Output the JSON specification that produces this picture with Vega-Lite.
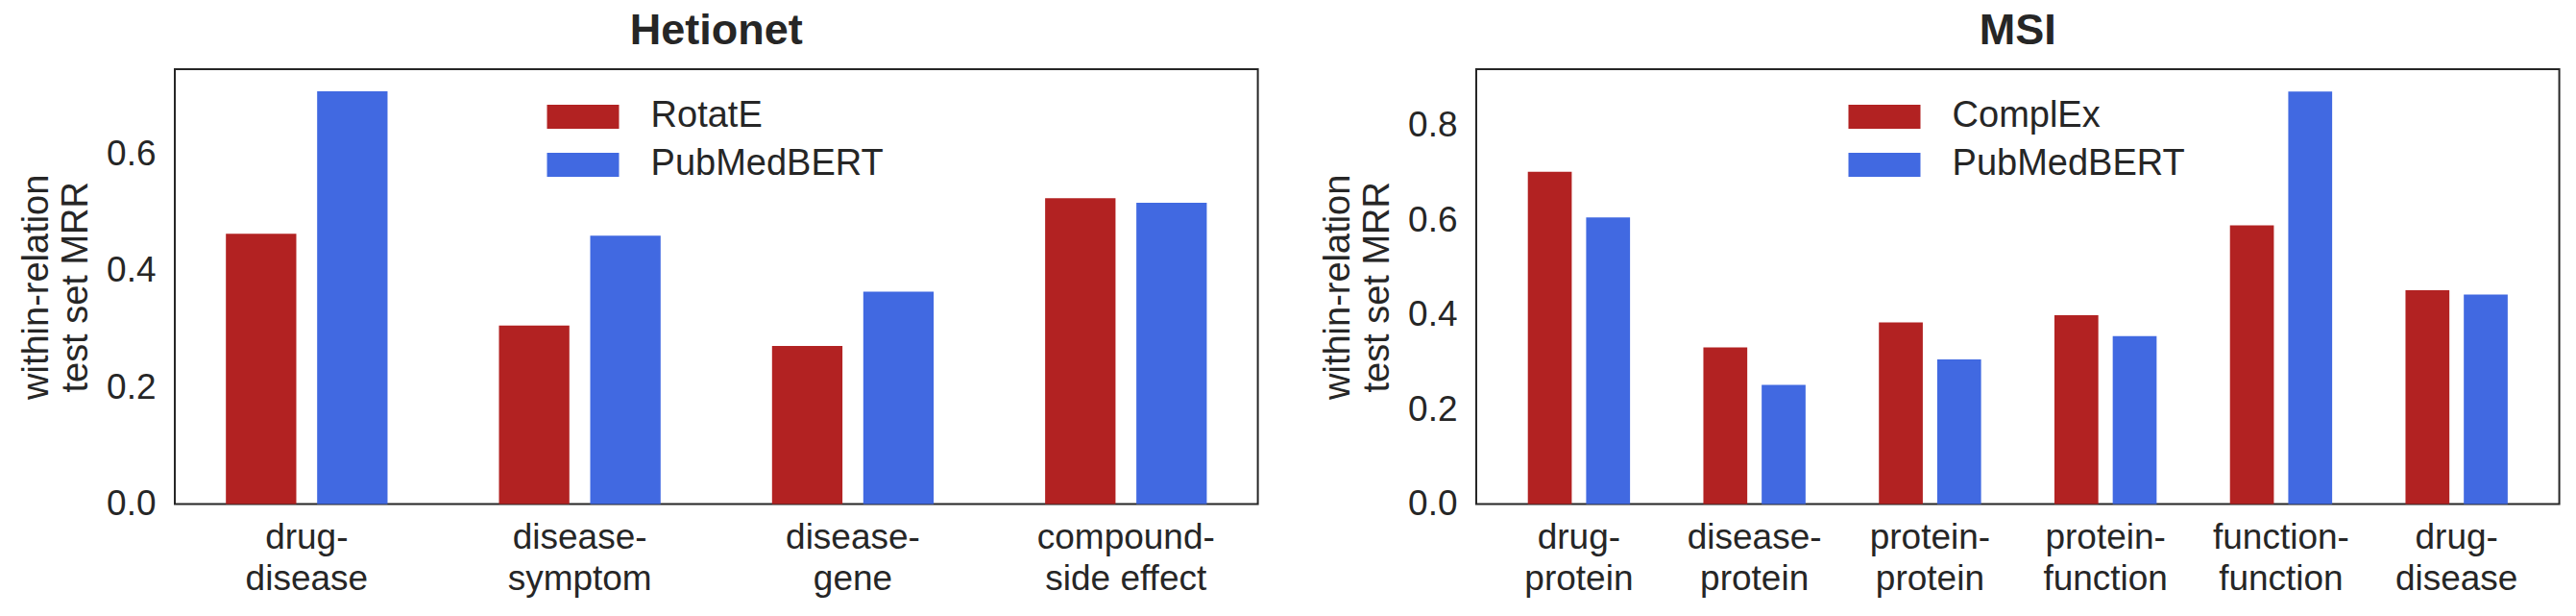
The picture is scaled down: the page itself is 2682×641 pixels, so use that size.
{
  "$schema": "https://vega.github.io/schema/vega-lite/v6.json",
  "background": "white",
  "padding": {"left": 18, "top": 9, "right": 0, "bottom": 0},
  "datasets": {
    "hetionet": [
      {"relation": "drug-disease", "model": "RotatE", "mrr": 0.463},
      {"relation": "drug-disease", "model": "PubMedBERT", "mrr": 0.707},
      {"relation": "disease-symptom", "model": "RotatE", "mrr": 0.306},
      {"relation": "disease-symptom", "model": "PubMedBERT", "mrr": 0.46},
      {"relation": "disease-gene", "model": "RotatE", "mrr": 0.271},
      {"relation": "disease-gene", "model": "PubMedBERT", "mrr": 0.364},
      {"relation": "compound-side effect", "model": "RotatE", "mrr": 0.524},
      {"relation": "compound-side effect", "model": "PubMedBERT", "mrr": 0.516}
    ],
    "msi": [
      {"relation": "drug-protein", "model": "ComplEx", "mrr": 0.702},
      {"relation": "drug-protein", "model": "PubMedBERT", "mrr": 0.606},
      {"relation": "disease-protein", "model": "ComplEx", "mrr": 0.331},
      {"relation": "disease-protein", "model": "PubMedBERT", "mrr": 0.252},
      {"relation": "protein-protein", "model": "ComplEx", "mrr": 0.384},
      {"relation": "protein-protein", "model": "PubMedBERT", "mrr": 0.306},
      {"relation": "protein-function", "model": "ComplEx", "mrr": 0.399},
      {"relation": "protein-function", "model": "PubMedBERT", "mrr": 0.355},
      {"relation": "function-function", "model": "ComplEx", "mrr": 0.589},
      {"relation": "function-function", "model": "PubMedBERT", "mrr": 0.872},
      {"relation": "drug-disease", "model": "ComplEx", "mrr": 0.452},
      {"relation": "drug-disease", "model": "PubMedBERT", "mrr": 0.443}
    ]
  },
  "hconcat": [
    {
      "title": "Hetionet",
      "width": 1127.6,
      "height": 452.6,
      "data": {"name": "hetionet"},
      "encoding": {
        "x": {
          "field": "relation",
          "type": "nominal",
          "sort": null,
          "scale": {"paddingInner": 0.409, "paddingOuter": 0.1875}
        },
        "y": {
          "field": "mrr",
          "type": "quantitative",
          "scale": {"domain": [0, 0.745], "nice": false},
          "axis": {"values": [0, 0.2, 0.4, 0.6], "title": ["within-relation", "test set MRR"]}
        },
        "color": {
          "field": "model",
          "type": "nominal",
          "scale": {"domain": ["RotatE", "PubMedBERT"], "range": ["#b22222", "#4169e1"]}
        }
      },
      "layer": [
        {
          "transform": [{"filter": "datum.model === 'RotatE'"}],
          "mark": {"type": "bar", "width": 73.3, "xOffset": -47.5}
        },
        {
          "transform": [{"filter": "datum.model === 'PubMedBERT'"}],
          "mark": {"type": "bar", "width": 73.3, "xOffset": 47.5}
        }
      ]
    },
    {
      "title": "MSI",
      "width": 1127.6,
      "height": 452.6,
      "data": {"name": "msi"},
      "encoding": {
        "x": {
          "field": "relation",
          "type": "nominal",
          "sort": null,
          "scale": {"paddingInner": 0.417, "paddingOuter": 0.2935}
        },
        "y": {
          "field": "mrr",
          "type": "quantitative",
          "scale": {"domain": [0, 0.919], "nice": false},
          "axis": {"values": [0, 0.2, 0.4, 0.6, 0.8], "title": ["within-relation", "test set MRR"]}
        },
        "color": {
          "field": "model",
          "type": "nominal",
          "scale": {"domain": ["ComplEx", "PubMedBERT"], "range": ["#b22222", "#4169e1"]}
        }
      },
      "layer": [
        {
          "transform": [{"filter": "datum.model === 'ComplEx'"}],
          "mark": {"type": "bar", "width": 45.7, "xOffset": -30.35}
        },
        {
          "transform": [{"filter": "datum.model === 'PubMedBERT'"}],
          "mark": {"type": "bar", "width": 45.7, "xOffset": 30.35}
        }
      ]
    }
  ],
  "resolve": {
    "scale": {"color": "independent", "y": "independent", "x": "independent"},
    "legend": {"color": "independent"}
  },
  "config": {
    "font": "Liberation Sans",
    "concat": {"spacing": 62},
    "view": {"stroke": "#262626", "strokeWidth": 2},
    "title": {"fontSize": 45, "fontWeight": "bold", "color": "#262626", "offset": 17, "baseline": "alphabetic"},
    "axis": {
      "domain": false,
      "ticks": false,
      "grid": false,
      "labelColor": "#262626",
      "titleColor": "#262626",
      "labelFontSize": 37,
      "labelLimit": 500,
      "titleFontSize": 38,
      "titleFontWeight": "normal"
    },
    "axisX": {
      "title": null,
      "labelAngle": 0,
      "labelLineHeight": 43,
      "labelPadding": 17,
      "labelExpr": "[slice(datum.value, 0, indexof(datum.value, '-') + 1), slice(datum.value, indexof(datum.value, '-') + 1)]"
    },
    "axisY": {
      "titleLineHeight": 41,
      "titlePadding": 12,
      "labelPadding": 20,
      "format": ".1f"
    },
    "legend": {
      "orient": "none",
      "legendX": 400,
      "legendY": 24.5,
      "title": null,
      "padding": 0,
      "symbolType": "M-1.5,-0.5H1.5V0.5H-1.5Z",
      "symbolSize": 2500,
      "symbolStrokeWidth": 0,
      "labelFontSize": 38,
      "labelLimit": 0,
      "labelColor": "#262626",
      "labelOffset": 45.6,
      "rowPadding": 6
    }
  }
}
